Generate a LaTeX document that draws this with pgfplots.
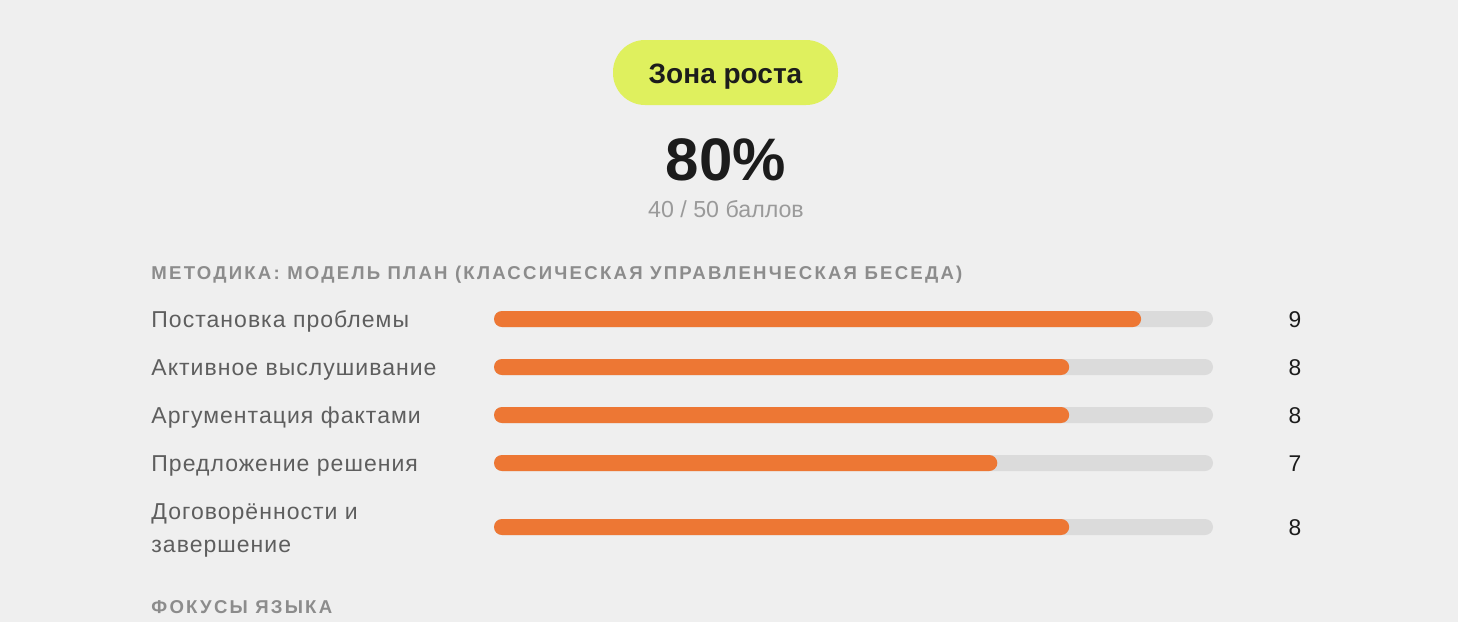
\documentclass[border=0pt]{standalone}
\usepackage{fontspec}
\setmainfont{Liberation Sans}
\newfontfamily\capsfont[LetterSpace=12]{Liberation Sans}
\newfontfamily\labfont[LetterSpace=4.5]{Liberation Sans}
\usepackage{pgfplots}
\pgfplotsset{compat=1.18}
\definecolor{bg}{HTML}{EFEFEF}
\definecolor{badge}{HTML}{DFF05E}
\definecolor{barc}{HTML}{ED7734}
\definecolor{track}{HTML}{DBDBDB}
\definecolor{lab}{HTML}{5E5E5E}
\definecolor{head}{HTML}{8C8C8C}
\definecolor{val}{HTML}{1C1C1C}
\definecolor{sub}{HTML}{9A9A9A}
\begin{document}
\begin{tikzpicture}[x=0.5pt,y=-0.5pt]
\fill[bg] (0,0) rectangle (1458,622);
\coordinate (A) at (494,295);
\fill[badge,rounded corners=16pt] (613,40) rectangle (838,105);
\node[anchor=base,inner sep=0pt,font=\bfseries\fontsize{14}{16}\selectfont,text=val] at (725.5,83) {Зона роста};
\node[anchor=base,inner sep=0pt,font=\bfseries\fontsize{30}{34}\selectfont,text=val] at (726,180) {80\%};
\node[anchor=base,inner sep=0pt,font=\fontsize{11.6}{13}\selectfont,text=sub] at (726,217) {40 / 50 баллов};
\node[anchor=base west,inner sep=0pt,font=\capsfont\bfseries\fontsize{9.3}{11}\selectfont,text=head] at (151,279) {МЕТОДИКА: МОДЕЛЬ ПЛАН (КЛАССИЧЕСКАЯ УПРАВЛЕНЧЕСКАЯ БЕСЕДА)};
\node[anchor=base west,inner sep=0pt,font=\capsfont\bfseries\fontsize{9.3}{11}\selectfont,text=head] at (151,613) {ФОКУСЫ ЯЗЫКА};
\begin{scope}[every node/.style={anchor=base west,inner sep=0pt,font=\labfont\fontsize{11.5}{13}\selectfont,text=lab}]
\node at (151,327) {Постановка проблемы};
\node at (151,375) {Активное выслушивание};
\node at (151,423) {Аргументация фактами};
\node at (151,471) {Предложение решения};
\node at (151,519) {Договорённости и};
\node at (151,552) {завершение};
\end{scope}
\begin{scope}[every node/.style={anchor=base,inner sep=0pt,font=\fontsize{11.4}{13}\selectfont,text=val}]
\node at (1295,327) {9};
\node at (1295,375) {8};
\node at (1295,423) {8};
\node at (1295,471) {7};
\node at (1295,535) {8};
\end{scope}
\begin{axis}[at={(A)},anchor=north west,scale only axis,width=359.5pt,height=125pt,
  xmin=0,xmax=10,ymin=295,ymax=545,y dir=reverse,hide axis,clip=false,
  xbar,bar width=8pt,bar shift=0pt]
\addplot[draw=none,fill=track,rounded corners=4pt] coordinates {(10,319) (10,367) (10,415) (10,463) (10,527)};
\addplot[draw=none,fill=barc,rounded corners=4pt] coordinates {(9,319) (8,367) (8,415) (7,463) (8,527)};
\end{axis}
\end{tikzpicture}
\end{document}
